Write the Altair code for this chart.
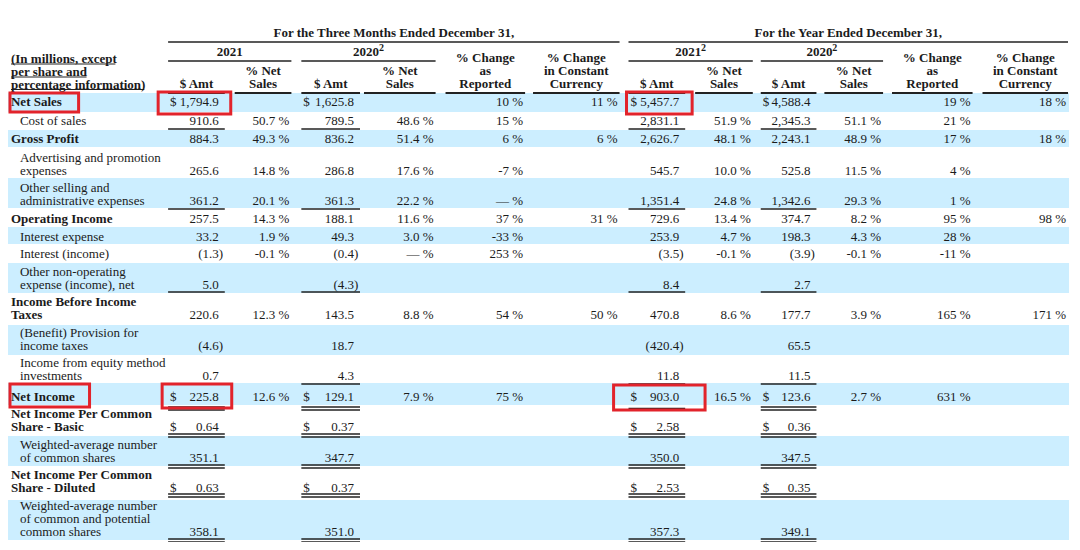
import altair as alt
import pandas as pd

FONT = "Liberation Serif"
INK = "#1b1b1b"
BAND = "#cceeff"
RED = "#e2232b"

# ---------------- data (table text) ----------------
row_labels = [
    ["Net Sales"],
    ["Cost of sales"],
    ["Gross Profit"],
    ["Advertising and promotion", "expenses"],
    ["Other selling and", "administrative expenses"],
    ["Operating Income"],
    ["Interest expense"],
    ["Interest (income)"],
    ["Other non-operating", "expense (income), net"],
    ["Income Before Income", "Taxes"],
    ["(Benefit) Provision for", "income taxes"],
    ["Income from equity method", "investments"],
    ["Net Income"],
    ["Net Income Per Common", "Share - Basic"],
    ["Weighted-average number", "of common shares"],
    ["Net Income Per Common", "Share - Diluted"],
    ["Weighted-average number", "of common and potential", "common shares"],
]
row_bold = [True, False, True, False, False, True, False, False, False,
            True, False, False, True, True, False, True, False]
dollar_rows = [0, 12, 13, 15]

q4_2021_amt = ["1,794.9", "910.6", "884.3", "265.6", "361.2", "257.5", "33.2", "(1.3)", "5.0",
               "220.6", "(4.6)", "0.7", "225.8", "0.64", "351.1", "0.63", "358.1"]
q4_2021_pct = ["", "50.7 %", "49.3 %", "14.8 %", "20.1 %", "14.3 %", "1.9 %", "-0.1 %", "",
               "12.3 %", "", "", "12.6 %", "", "", "", ""]
q4_2020_amt = ["1,625.8", "789.5", "836.2", "286.8", "361.3", "188.1", "49.3", "(0.4)", "(4.3)",
               "143.5", "18.7", "4.3", "129.1", "0.37", "347.7", "0.37", "351.0"]
q4_2020_pct = ["", "48.6 %", "51.4 %", "17.6 %", "22.2 %", "11.6 %", "3.0 %", "— %", "",
               "8.8 %", "", "", "7.9 %", "", "", "", ""]
q4_chg = ["10 %", "15 %", "6 %", "-7 %", "— %", "37 %", "-33 %", "253 %", "",
          "54 %", "", "", "75 %", "", "", "", ""]
q4_cc = ["11 %", "", "6 %", "", "", "31 %", "", "", "",
         "50 %", "", "", "", "", "", "", ""]
fy_2021_amt = ["5,457.7", "2,831.1", "2,626.7", "545.7", "1,351.4", "729.6", "253.9", "(3.5)", "8.4",
               "470.8", "(420.4)", "11.8", "903.0", "2.58", "350.0", "2.53", "357.3"]
fy_2021_pct = ["", "51.9 %", "48.1 %", "10.0 %", "24.8 %", "13.4 %", "4.7 %", "-0.1 %", "",
               "8.6 %", "", "", "16.5 %", "", "", "", ""]
fy_2020_amt = ["4,588.4", "2,345.3", "2,243.1", "525.8", "1,342.6", "374.7", "198.3", "(3.9)", "2.7",
               "177.7", "65.5", "11.5", "123.6", "0.36", "347.5", "0.35", "349.1"]
fy_2020_pct = ["", "51.1 %", "48.9 %", "11.5 %", "29.3 %", "8.2 %", "4.3 %", "-0.1 %", "",
               "3.9 %", "", "", "2.7 %", "", "", "", ""]
fy_chg = ["19 %", "21 %", "17 %", "4 %", "1 %", "95 %", "28 %", "-11 %", "",
          "165 %", "", "", "631 %", "", "", "", ""]
fy_cc = ["18 %", "", "18 %", "", "", "98 %", "", "", "",
         "171 %", "", "", "", "", "", "", ""]

columns = [q4_2021_amt, q4_2021_pct, q4_2020_amt, q4_2020_pct, q4_chg, q4_cc,
           fy_2021_amt, fy_2021_pct, fy_2020_amt, fy_2020_pct, fy_chg, fy_cc]

group_titles = ["For the Three Months Ended December 31,", "For the Year Ended December 31,"]
year_titles = ["2021", "2020", "2021", "2020"]
year_sups = ["", "2", "2", "2"]
col_heads = [["$ Amt"], ["% Net", "Sales"], ["$ Amt"], ["% Net", "Sales"],
             ["% Change", "as", "Reported"], ["% Change", "in Constant", "Currency"],
             ["$ Amt"], ["% Net", "Sales"], ["$ Amt"], ["% Net", "Sales"],
             ["% Change", "as", "Reported"], ["% Change", "in Constant", "Currency"]]
corner_lines = ["(In millions, except", "per share and", "percentage information)"]

# ---------------- layout (positions / sizes) ----------------
LINE_H = 13
band_edges = [93, 112, 130, 147, 178, 208, 227, 244, 263, 293, 325, 355, 383, 405, 436, 466, 500, 540]
row_last_y = [102, 121, 139, 171, 201, 219, 237, 254, 285, 315, 346, 376, 397, 427, 458, 488, 532]
col_left = [163, 230, 297, 360, 442, 530, 626, 693, 759, 823, 891, 982]
col_right = [220, 287, 356, 432, 522, 617, 683, 751, 815, 882, 972, 1068]
amount_cols = [0, 2, 6, 8]
group_spans = [(163, 617), (626, 1068)]
year_spans = [(163, 287), (297, 432), (626, 751), (759, 882)]
band_x = (2, 1069)
single_rule_rows = {1: 129, 4: 209, 8: 292, 11: 384}
double_rule_rows = {12: (407, 410), 13: (434, 437), 14: (465, 468), 15: (494, 497), 16: (539, 542)}
corner_ul = [(58.5, 64, 110), (71.5, 77, 81), (84.5, 89.5, 139)]
red_boxes = [(4, 73, 93, 112), (153, 226, 92, 114), (624, 690, 92, 114),
             (4, 84, 384, 407), (157, 227, 384, 408), (611, 703, 385, 410)]

X = alt.X("x:Q", scale=alt.Scale(domain=[2, 1072], nice=False, zero=False), axis=None)
Y = alt.Y("y:Q", scale=alt.Scale(domain=[8, 542], nice=False, zero=False, reverse=True), axis=None)

# ---------------- build tables ----------------
bands = pd.DataFrame([
    {"x": band_x[0], "x2": band_x[1], "y": band_edges[i], "y2": band_edges[i + 1]}
    for i in range(0, len(row_labels), 2)
])

rules = []
for (a, b) in group_spans:
    rules.append({"x": a, "x2": b, "y": 42, "w": 1.6})
for (a, b) in year_spans:
    rules.append({"x": a, "x2": b, "y": 61, "w": 1.6})
for c in range(12):
    rules.append({"x": col_left[c], "x2": col_right[c], "y": 93, "w": 1.8})
for r, yy in single_rule_rows.items():
    for c in amount_cols:
        rules.append({"x": col_left[c], "x2": col_right[c], "y": yy, "w": 1.6})
for r, (y1, y2) in double_rule_rows.items():
    for c in amount_cols:
        if r == 12 and c == 6:
            rules.append({"x": col_left[c], "x2": col_right[c], "y": (y1 + y2) / 2, "w": 1.4})
            continue
        rules.append({"x": col_left[c], "x2": col_right[c], "y": y1, "w": 1.3})
        rules.append({"x": col_left[c], "x2": col_right[c], "y": y2, "w": 1.3})
for (yy, uy, xe) in corner_ul:
    rules.append({"x": 5, "x2": xe, "y": uy, "w": 1.2})
rules = pd.DataFrame(rules)

lab_bold, lab_norm = [], []
for i, lines in enumerate(row_labels):
    n = len(lines)
    for k, t in enumerate(lines):
        yy = row_last_y[i] - LINE_H * (n - 1 - k)
        if row_bold[i]:
            lab_bold.append({"x": 5, "y": yy, "t": t})
        else:
            lab_norm.append({"x": 14, "y": yy, "t": t})

vals, dollars = [], []
for c, col in enumerate(columns):
    for i, t in enumerate(col):
        if not t:
            continue
        if c in amount_cols:
            xr = col_right[c] - 6 + (4.3 if t.endswith(")") else 0)
            if i in dollar_rows:
                dollars.append({"x": col_left[c] + 2, "y": row_last_y[i], "t": "$"})
        else:
            xr = col_right[c] - 2
        vals.append({"x": xr, "y": row_last_y[i], "t": t})

heads = []
for g, (a, b) in zip(group_titles, group_spans):
    heads.append({"x": (a + b) / 2, "y": 33, "t": g})
sups = []
for yt, ys, (a, b) in zip(year_titles, year_sups, year_spans):
    cx = (a + b) / 2
    if ys:
        heads.append({"x": cx - 2.5, "y": 52, "t": yt})
        sups.append({"x": cx + 10.5, "y": 47.5, "t": ys})
    else:
        heads.append({"x": cx, "y": 52, "t": yt})
for c, lines in enumerate(col_heads):
    cx = (col_left[c] + col_right[c]) / 2
    n = len(lines)
    for k, t in enumerate(lines):
        heads.append({"x": cx, "y": 83.5 - 13 * (n - 1 - k), "t": t})
corner = [{"x": 5, "y": yy, "t": t} for t, (yy, _, _) in zip(corner_lines, corner_ul)]

boxes = pd.DataFrame([{"x": a, "x2": b, "y": c, "y2": d} for (a, b, c, d) in red_boxes])


def text_layer(rows, align, bold=False, size=13):
    return alt.Chart(pd.DataFrame(rows)).mark_text(
        align=align, baseline="middle", font=FONT, fontSize=size,
        fontWeight="bold" if bold else "normal", color=INK
    ).encode(x=X, y=Y, text="t:N")


band_layer = alt.Chart(bands).mark_rect(color=BAND).encode(
    x=X, x2="x2:Q", y=Y, y2="y2:Q")
rule_layer = alt.Chart(rules).mark_rule(color="#222222").encode(
    x=X, x2="x2:Q", y=Y,
    strokeWidth=alt.StrokeWidth("w:Q", scale=None, legend=None))
box_layer = alt.Chart(boxes).mark_rect(fillOpacity=0, stroke=RED, strokeWidth=3).encode(
    x=X, x2="x2:Q", y=Y, y2="y2:Q")

chart = alt.layer(
    band_layer,
    rule_layer,
    text_layer(lab_bold, "left", bold=True),
    text_layer(lab_norm, "left"),
    text_layer(vals, "right"),
    text_layer(dollars, "left"),
    text_layer(heads, "center", bold=True),
    text_layer(sups, "left", bold=True, size=10),
    text_layer(corner, "left", bold=True),
    box_layer,
).properties(
    width=1064, height=534, padding=0, autosize="none"
).configure_view(strokeWidth=0)

chart.save("out.html", embed_options={"renderer": "svg", "actions": False})
